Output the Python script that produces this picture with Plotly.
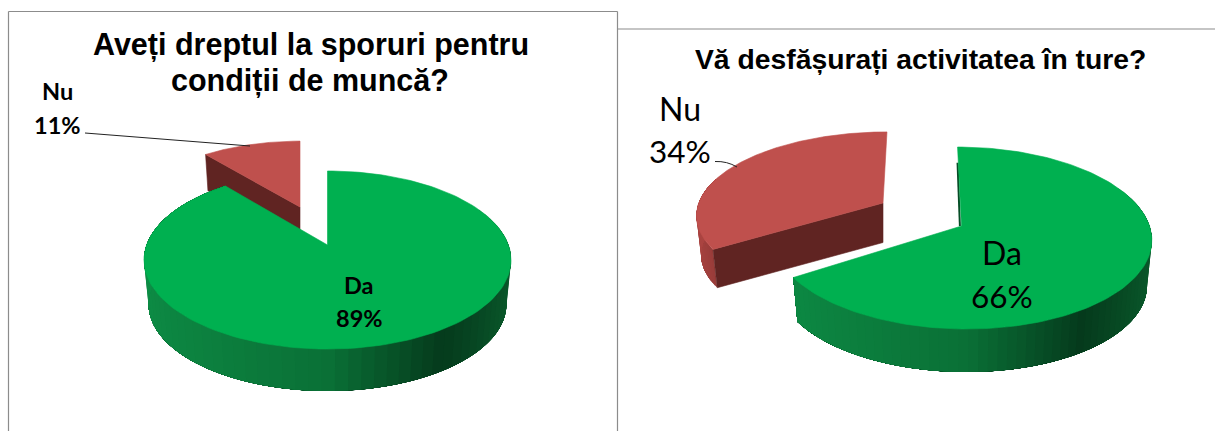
import math
import plotly.graph_objects as go

categories = ["Da", "Nu"]
left_values = [89, 11]
right_values = [66, 34]
left_title_lines = ["Aveți dreptul la sporuri pentru", "condiții de muncă?"]
right_title = "Vă desfășurați activitatea în ture?"

GREEN = "#00b050"
RED = "#bf504d"
RED_DARK = "#602422"
GREEN_STOPS = [(-1.0, (13, 140, 69)), (0.0, (10, 112, 54)), (0.55, (5, 58, 28)), (1.0, (10, 90, 44))]
RED_STOPS = [(-1.0, (170, 68, 65)), (-0.6, (125, 48, 46)), (1.0, (96, 36, 34))]


def lerp_col(t, stops):
    t = max(stops[0][0], min(stops[-1][0], t))
    for (a, ca), (b, cb) in zip(stops, stops[1:]):
        if t <= b:
            k = (t - a) / (b - a)
            return "rgb(%d,%d,%d)" % tuple(round(p + (q - p) * k) for p, q in zip(ca, cb))
    return "rgb(%d,%d,%d)" % stops[-1][1]


def poly(fig, xs, ys, color, lw=0.6):
    fig.add_trace(go.Scatter(x=xs, y=ys, mode="lines", fill="toself", fillcolor=color,
                             line=dict(color=color, width=lw), hoverinfo="skip", showlegend=False))


class Slice:
    def __init__(s, f0, f1, apex, R, h, c, sx=1.0, sy=1.0, sk=0.0, depth=44, b=0.975):
        s.f0, s.f1, s.apex, s.R, s.h, s.c = f0, f1, apex, R, h, c
        s.sx, s.sy, s.sk, s.depth, s.b = sx, sy, sk, depth, b

    def pt(s, f, bottom=False, r=1.0):
        th = 2 * math.pi * f
        u, v = math.sin(th) * r, -math.cos(th) * r
        d = 1 - s.c * v
        k = s.b if bottom else 1.0
        dy = s.sy * s.h * v / d * k
        x = s.apex[0] + s.sx * s.R * u / d * k + s.sk * dy
        y = s.apex[1] + dy + (s.depth if bottom else 0)
        return x, y

    def arc(s, bottom=False, n=160):
        return [s.pt(s.f0 + (s.f1 - s.f0) * i / n, bottom) for i in range(n + 1)]

    def top(s, fig, color):
        a = s.arc()
        poly(fig, [s.apex[0]] + [p[0] for p in a] + [s.apex[0]],
             [s.apex[1]] + [p[1] for p in a] + [s.apex[1]], color)

    def wall(s, fig, stops, n=90, end=None):
        # each band runs from its start to the far end of the wall, so later bands
        # paint over earlier ones and no seams appear between them
        end = s.f1 if end is None else end
        for i in range(n):
            f0 = s.f0 + (end - s.f0) * i / n
            f1 = s.f0 + (end - s.f0) * (i + 1) / n
            if math.cos(2 * math.pi * (f0 + f1) / 2) > 0.45:
                continue
            steps = [f0 + (end - f0) * j / 60 for j in range(61)]
            t = [s.pt(f) for f in steps]
            b = [s.pt(f, True) for f in steps][::-1]
            col = lerp_col(math.sin(math.pi * (f0 + f1)), stops)
            pts = t + b + t[:1]
            poly(fig, [p[0] for p in pts], [p[1] for p in pts], col, lw=0)

    def radial_wall(s, fig, f, color):
        e, eb = s.pt(f), s.pt(f, True)
        ax, ay = s.apex
        poly(fig, [ax, e[0], eb[0], ax, ax], [ay, e[1], eb[1], ay + s.depth, ay], color)


fig = go.Figure()

# ---- left pie
f_split = left_values[0] / sum(left_values)
l_params = dict(R=180.9, h=86.5, c=0.1685)
nu_l = Slice(f_split, 1.0, (300, 207), sx=0.925, sy=0.89, depth=35, **l_params)
da_l = Slice(0.0, f_split, (327.5, 245), depth=44.6, **l_params)
nu_l.radial_wall(fig, f_split, RED_DARK)
nu_l.top(fig, RED)
da_l.wall(fig, GREEN_STOPS)
da_l.top(fig, GREEN)

# ---- right pie
f_split = right_values[0] / sum(right_values)
r_params = dict(R=188, h=89.4, c=0.132)
nu_r = Slice(f_split, 1.0, (883, 203), sx=0.98, sy=0.9, sk=-0.056, depth=39.5, **r_params)
da_r = Slice(0.0, f_split, (961.5, 226), sk=0.05, depth=45.6, **r_params)
nu_r.wall(fig, RED_STOPS, n=30, end=0.8)
nu_r.radial_wall(fig, f_split, RED_DARK)
nu_r.top(fig, RED)
da_r.wall(fig, GREEN_STOPS)
edge = da_r.pt(0.0, r=0.78)
fig.add_trace(go.Scatter(x=[edge[0] - 0.8, da_r.apex[0] - 1.6], y=[edge[1], da_r.apex[1]], mode="lines",
                         line=dict(color="#064d26", width=2), hoverinfo="skip", showlegend=False))
da_r.top(fig, GREEN)

TITLE = "Liberation Sans"
LABEL = "Lato"
anns = [
    dict(x=311, y=44, text="<b>%s</b>" % left_title_lines[0], size=30.5, fam=TITLE),
    dict(x=310, y=80, text="<b>%s</b>" % left_title_lines[1], size=30.5, fam=TITLE),
    dict(x=920.5, y=59, text="<b>%s</b>" % right_title, size=28.3, fam=TITLE),
    dict(x=57, y=91, text="<b>%s</b>" % categories[1], size=23.5, fam=LABEL),
    dict(x=57, y=125, text="<b>%d%%</b>" % left_values[1], size=23.5, fam=LABEL),
    dict(x=359, y=285, text="<b>%s</b>" % categories[0], size=23.5, fam=LABEL),
    dict(x=359, y=318, text="<b>%d%%</b>" % left_values[0], size=23.5, fam=LABEL),
    dict(x=680, y=108, text=categories[1], size=32, fam=LABEL),
    dict(x=680, y=151, text="%d%%" % right_values[1], size=31.5, fam=LABEL),
    dict(x=1002, y=252, text=categories[0], size=32, fam=LABEL),
    dict(x=1002, y=296, text="%d%%" % right_values[0], size=31.5, fam=LABEL),
]
annotations = [dict(x=a["x"], y=a["y"], xref="x", yref="y", text=a["text"], showarrow=False,
                    xanchor="center", yanchor="middle", align="center",
                    font=dict(family=a["fam"], size=a["size"], color="#000000")) for a in anns]

FRAME = dict(color="#8c8c8c", width=1.2)
shapes = [
    dict(type="line", x0=8.5, y0=11.5, x1=8.5, y1=431, line=FRAME),
    dict(type="line", x0=8.5, y0=11.5, x1=617.5, y1=11.5, line=FRAME),
    dict(type="line", x0=617.5, y0=11.5, x1=617.5, y1=431, line=FRAME),
    dict(type="line", x0=617.5, y0=29, x1=1215, y1=29, line=FRAME),
    dict(type="line", x0=85, y0=133, x1=250, y1=146, line=dict(color="#222222", width=1)),
    dict(type="path", path="M 715,161.5 Q 727,161 737,167", line=dict(color="#222222", width=1)),
]

fig.update_layout(
    width=1215, height=431, margin=dict(l=0, r=0, t=0, b=0), autosize=False,
    paper_bgcolor="white", plot_bgcolor="white", showlegend=False,
    xaxis=dict(range=[0, 1215], visible=False, fixedrange=True),
    yaxis=dict(range=[431, 0], visible=False, fixedrange=True),
    annotations=annotations, shapes=shapes,
)
fig.write_html("out.html", config=dict(displayModeBar=False),
               post_script="document.body.style.margin='0';document.body.style.overflow='hidden';")
